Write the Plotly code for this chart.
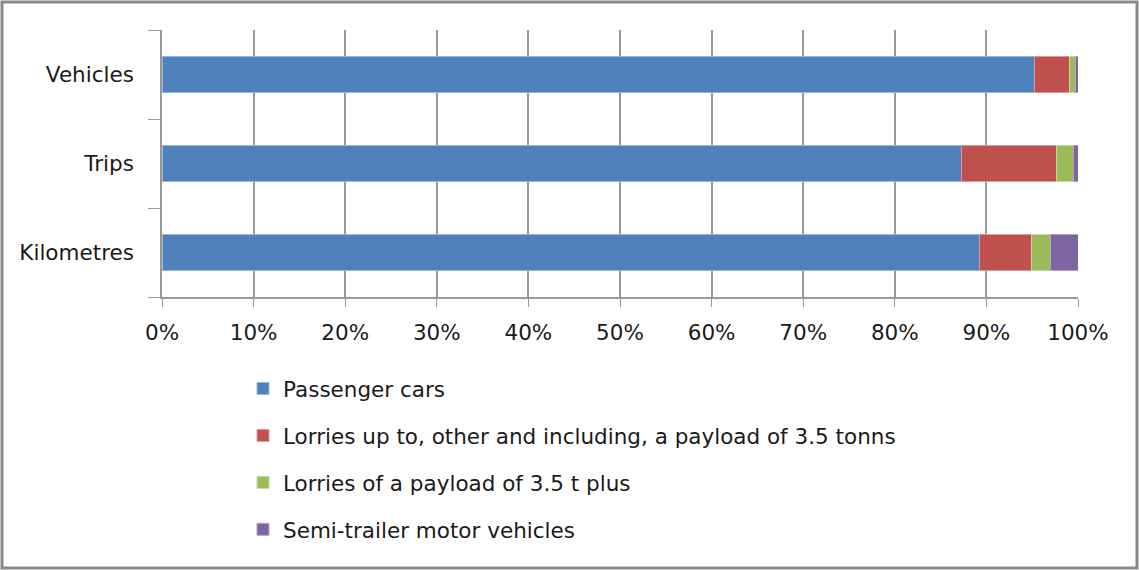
import plotly.graph_objects as go

# Share of each vehicle class per measure (percent of total)
categories = ["Kilometres", "Trips", "Vehicles"]
series_names = [
    "Passenger cars",
    "Lorries up to, other and including, a payload of 3.5 tonns",
    "Lorries of a payload of 3.5 t plus",
    "Semi-trailer motor vehicles",
]
passenger_cars = [89.2, 87.3, 95.2]
lorries_light = [5.7, 10.3, 3.9]
lorries_heavy = [2.1, 1.9, 0.6]
semi_trailers = [3.0, 0.5, 0.3]
x_tick_values = [0, 10, 20, 30, 40, 50, 60, 70, 80, 90, 100]
x_tick_labels = ["0%", "10%", "20%", "30%", "40%", "50%", "60%", "70%", "80%", "90%", "100%"]

colors = ["#4F81BD", "#C0504D", "#9BBB59", "#8064A2"]
edge_colors = ["#9DB5D8", "#DA9A98", "#C6D9A5", "#B3A3C9"]
series_values = [passenger_cars, lorries_light, lorries_heavy, semi_trailers]

FONT = "DejaVu Sans, sans-serif"
TEXT = "#1A1A1A"
FS = 21.5
GRID = "#999999"
W, H = 1139, 570
L, R, T, B = 162, 1078, 30, 297

fig = go.Figure()
for i, (name, vals) in enumerate(zip(series_names, series_values)):
    fig.add_trace(go.Bar(
        y=categories, x=vals, name=name, orientation="h",
        marker=dict(color=colors[i], line=dict(color=edge_colors[i], width=1)),
        legendgroup=f"g{i}",
    ))

pw, ph = R - L, B - T
def px_x(p):
    return (p - L) / pw
def px_y(p):
    return (B - p) / ph

fig.update_layout(
    width=W, height=H,
    margin=dict(l=L, r=W - R, t=T, b=H - B),
    barmode="stack", bargap=0.6,
    plot_bgcolor="white", paper_bgcolor="white",
    font=dict(family=FONT, size=FS, color=TEXT),
    xaxis=dict(
        range=[0, 100], tickvals=x_tick_values, ticktext=x_tick_labels,
        showgrid=True, gridcolor=GRID, gridwidth=1.5,
        showline=True, linecolor=GRID, linewidth=1.5,
        ticks="outside", ticklen=8, tickcolor=GRID,
        zeroline=False, fixedrange=True, ticklabelstandoff=7,
    ),
    yaxis=dict(
        range=[-0.5, 2.5], type="category",
        showline=True, linecolor=GRID, linewidth=1.5,
        ticks="outside", ticklen=12, tickcolor=GRID,
        tickson="boundaries", showgrid=False, ticklabelstandoff=22,
    ),
    legend=dict(
        x=px_x(243), y=px_y(368), xanchor="left", yanchor="top",
        orientation="v", tracegroupgap=16, traceorder="grouped",
        font=dict(family=FONT, size=FS, color=TEXT),
        itemwidth=30,
    ),
    showlegend=True,
    shapes=[dict(
        type="rect", xref="paper", yref="paper",
        x0=px_x(2), x1=px_x(1137), y0=px_y(2), y1=px_y(568),
        line=dict(color="#8A8A8A", width=3), layer="above",
    )],
)

fig.write_html("out.html")
